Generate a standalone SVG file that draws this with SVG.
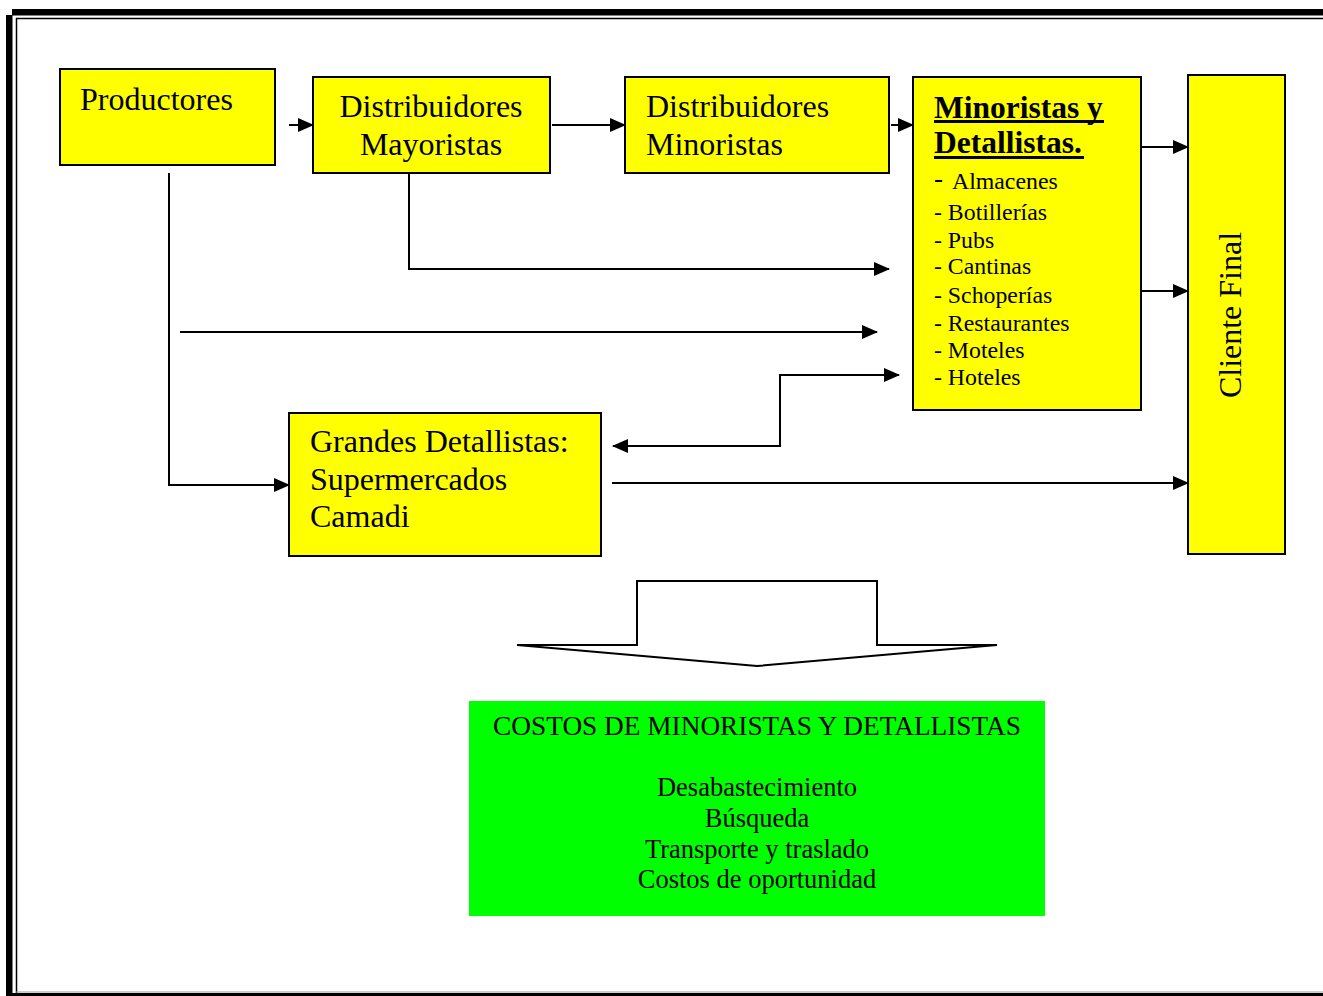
<svg xmlns="http://www.w3.org/2000/svg" width="1323" height="996" viewBox="0 0 1323 996">
<style>
.box{fill:#ffff00;stroke:#000;stroke-width:2}
.t{font-family:"Liberation Serif","Times New Roman",serif;font-size:32px;fill:#000}
.tb{font-family:"Liberation Serif","Times New Roman",serif;font-size:31.5px;font-weight:bold;fill:#000}
.li{font-family:"Liberation Serif","Times New Roman",serif;font-size:23.8px;fill:#000}
.g{font-family:"Liberation Serif","Times New Roman",serif;font-size:26.5px;fill:#000}
.gt{font-size:27.3px}
.c{fill:none;stroke:#000;stroke-width:2}
</style>
<defs>
<marker id="ah" markerWidth="16" markerHeight="14" refX="15" refY="7" orient="auto" markerUnits="userSpaceOnUse">
<path d="M0,0 L16,7 L0,14 Z" fill="#000"/>
</marker>
<marker id="as" markerWidth="16" markerHeight="14" refX="1" refY="7" orient="auto" markerUnits="userSpaceOnUse">
<path d="M16,0 L0,7 L16,14 Z" fill="#000"/>
</marker>
</defs>
<rect width="1323" height="996" fill="#fff"/>
<g id="frame">
<rect x="12" y="9" width="1311" height="6.5" fill="#000"/>
<rect x="6" y="15" width="6.5" height="981" fill="#000"/>
<line x1="16" y1="18.5" x2="1323" y2="18.5" stroke="#000" stroke-width="1.5"/>
<line x1="16.5" y1="18" x2="16.5" y2="993" stroke="#000" stroke-width="1.5"/>
<rect x="12" y="993" width="1311" height="3" fill="#000"/>
<line x1="16" y1="992" x2="1323" y2="992" stroke="#999" stroke-width="1"/>
</g>
<g id="connectors">
<line class="c" x1="289" y1="125" x2="313" y2="125" marker-end="url(#ah)"/>
<line class="c" x1="552" y1="125" x2="625" y2="125" marker-end="url(#ah)"/>
<line class="c" x1="891" y1="125" x2="913" y2="125" marker-end="url(#ah)"/>
<line class="c" x1="1142" y1="147" x2="1188" y2="147" marker-end="url(#ah)"/>
<line class="c" x1="1142" y1="291" x2="1188" y2="291" marker-end="url(#ah)"/>
<polyline class="c" points="409,173 409,269 889,269" marker-end="url(#ah)"/>
<line class="c" x1="180" y1="332" x2="877" y2="332" marker-end="url(#ah)"/>
<polyline class="c" points="169,173 169,485 289,485" marker-end="url(#ah)"/>
<polyline class="c" points="613,446 780,446 780,375 899,375" marker-start="url(#as)" marker-end="url(#ah)"/>
<line class="c" x1="612" y1="483" x2="1188" y2="483" marker-end="url(#ah)"/>
<polygon points="517,645 637,645 637,581 877,581 877,645 997,645 757,666" fill="#fff" stroke="#000" stroke-width="2" stroke-linejoin="miter"/>
</g>
<g id="productores">
<rect class="box" x="60" y="69" width="215" height="96"/>
<text class="t" x="80" y="110">Productores</text>
</g>
<g id="dist-mayoristas">
<rect class="box" x="313" y="77" width="237" height="96"/>
<text class="t" x="431" y="117" text-anchor="middle">Distribuidores</text>
<text class="t" x="431" y="155" text-anchor="middle">Mayoristas</text>
</g>
<g id="dist-minoristas">
<rect class="box" x="625" y="77" width="264" height="96"/>
<text class="t" x="646" y="117">Distribuidores</text>
<text class="t" x="646" y="155">Minoristas</text>
</g>
<g id="minoristas">
<rect class="box" x="913" y="77" width="228" height="333"/>
<text class="tb" x="934" y="118">Minoristas y</text>
<rect x="934" y="120" width="170" height="3" fill="#000"/>
<text class="tb" x="934" y="153">Detallistas.</text>
<rect x="934" y="156" width="150" height="3" fill="#000"/>
<text class="li" x="934" y="189"><tspan font-size="27" dy="-2">-</tspan><tspan dy="2" dx="9">Almacenes</tspan></text>
<text class="li" x="934" y="220">- Botillerías</text>
<text class="li" x="934" y="248">- Pubs</text>
<text class="li" x="934" y="274">- Cantinas</text>
<text class="li" x="934" y="303">- Schoperías</text>
<text class="li" x="934" y="331">- Restaurantes</text>
<text class="li" x="934" y="358">- Moteles</text>
<text class="li" x="934" y="385">- Hoteles</text>
</g>
<g id="cliente-final">
<rect class="box" x="1188" y="75" width="97" height="479"/>
<text class="t" transform="translate(1241,315) rotate(-90)" text-anchor="middle">Cliente Final</text>
</g>
<g id="grandes">
<rect class="box" x="289" y="413" width="312" height="143"/>
<text class="t" x="310" y="452">Grandes Detallistas:</text>
<text class="t" x="310" y="490">Supermercados</text>
<text class="t" x="310" y="527">Camadi</text>
</g>
<g id="costos">
<rect x="469" y="701" width="576" height="215" fill="#00ff00"/>
<text class="g gt" x="757" y="735" text-anchor="middle">COSTOS DE MINORISTAS Y DETALLISTAS</text>
<text class="g" x="757" y="796" text-anchor="middle">Desabastecimiento</text>
<text class="g" x="757" y="827" text-anchor="middle">Búsqueda</text>
<text class="g" x="757" y="858" text-anchor="middle">Transporte y traslado</text>
<text class="g" x="757" y="888" text-anchor="middle">Costos de oportunidad</text>
</g>
</svg>
